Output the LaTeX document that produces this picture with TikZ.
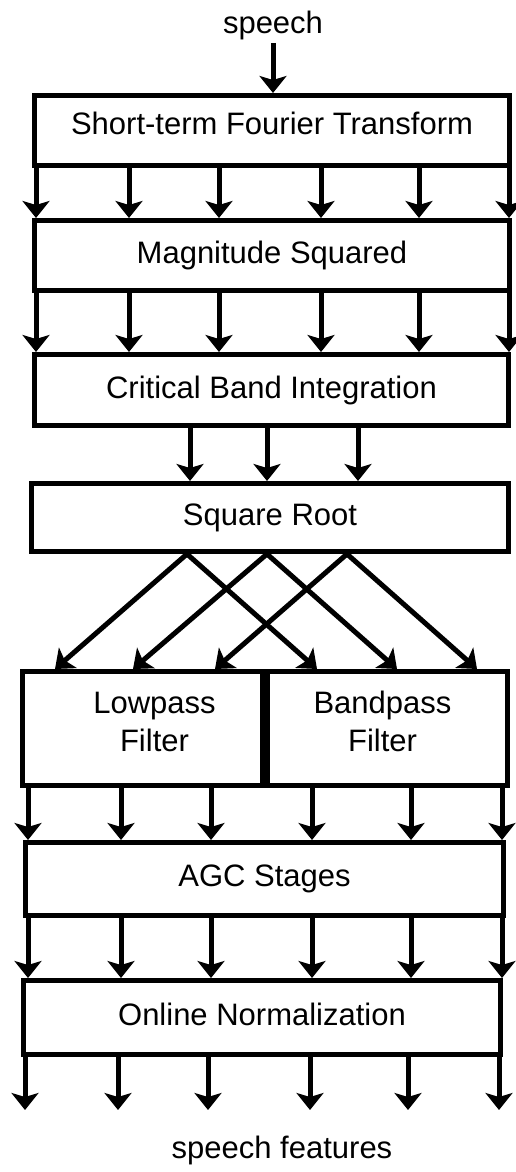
\documentclass[tikz,border=0pt]{standalone}
\usepackage{fontspec}
\setmainfont{Liberation Sans}
\usepackage{tikz}
\usetikzlibrary{positioning, arrows.meta}

\begin{document}
\begin{tikzpicture}[x=1pt, y=-1pt,
        block/.style={rectangle, draw=black, line width=5pt, inner sep=0pt,
            font=\fontsize{31}{38}\selectfont},
        arr/.style={-{Stealth[length=17pt, width=27pt, inset=4pt]}, line width=5pt}]
        \useasboundingbox (0, 0) rectangle (515, 1172);

        \node (in) at (273, 25) {\fontsize{31}{38}\selectfont speech};
        \node (stft) [block, text depth=14pt, minimum width=475pt, minimum height=70pt] at (272, 130.5) {Short-term Fourier Transform};
        \node (mag) [block, minimum width=475pt, minimum height=70pt] at (272, 255.5) {Magnitude Squared};
        \node (crit) [block, minimum width=474pt, minimum height=71pt] at (271.5, 390) {Critical Band Integration};
        \node (sqrt) [block, minimum width=477pt, minimum height=68pt] at (270, 517.5) {Square Root};
        \node (low) [block, align=center, text depth=14pt, minimum width=240pt, minimum height=114pt] at (142.5, 728.5) {\hspace*{24pt}Lowpass\\\hspace*{24pt}Filter};
        \node (band) [block, align=center, text depth=14pt, minimum width=240pt, minimum height=114pt] at (387.5, 728.5) {Bandpass\hspace*{10pt}\\Filter\hspace*{10pt}};
        \node (agc) [block, minimum width=478pt, minimum height=73pt] at (264.5, 879) {AGC Stages};
        \node (norm) [block, text depth=7pt, minimum width=477pt, minimum height=74pt] at (262, 1017.5) {Online Normalization};
        \node (out) at (282, 1150) {\fontsize{31}{38}\selectfont speech features};

        \draw [arr] (in) -- (273, 0 |- stft.north);
        \foreach \x in {36, 129, 219, 321, 419, 509} {
            \draw [arr] (\x, 0 |- stft.south) -- (\x, 0 |- mag.north);
            \draw [arr] (\x, 0 |- mag.south) -- (\x, 0 |- crit.north);
        }
        \foreach \x in {190, 267, 358}
            \draw [arr] (\x, 0 |- crit.south) -- (\x, 0 |- sqrt.north);

        % each root output goes to both filters
        \foreach \a/\b/\c in {187/55/317, 267/133/397, 347/215/477} {
            \draw [arr] (\a, 0 |- sqrt.south) -- (\b, 0 |- low.north);
            \draw [arr] (\a, 0 |- sqrt.south) -- (\c, 0 |- band.north);
        }

        \foreach \x in {28, 121, 211}
            \draw [arr] (\x, 0 |- low.south) -- (\x, 0 |- agc.north);
        \foreach \x in {312, 411, 502}
            \draw [arr] (\x, 0 |- band.south) -- (\x, 0 |- agc.north);
        \foreach \x in {28, 121, 211, 312, 411, 502}
            \draw [arr] (\x, 0 |- agc.south) -- (\x, 0 |- norm.north);

        \foreach \x [count=\i] in {25, 118, 208, 310, 408, 499} {
            \coordinate (f\i) at (\x, 1110);
            \draw [arr] (\x, 0 |- norm.south) -- (f\i);
        }
\end{tikzpicture}
\end{document}
